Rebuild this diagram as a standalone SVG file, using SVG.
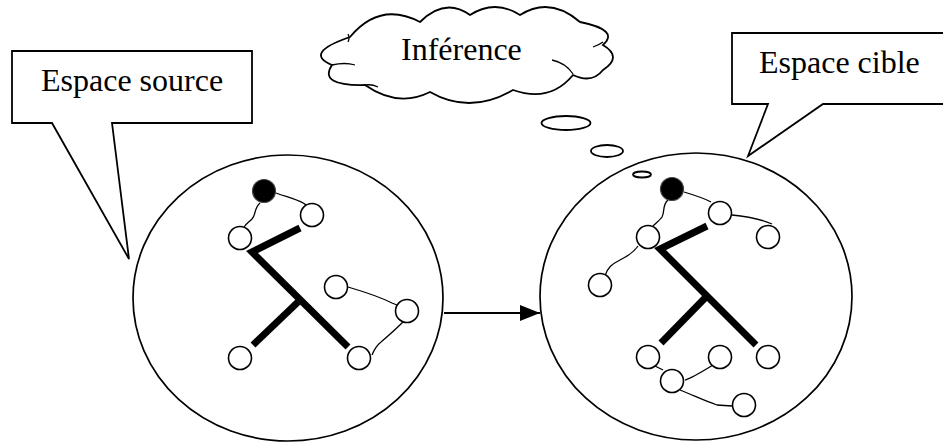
<svg xmlns="http://www.w3.org/2000/svg" width="943" height="443" viewBox="0 0 943 443">
<defs>
<style>
.ol{fill:#fff;stroke:#000;stroke-width:1.8}
.sp{fill:none;stroke:#000;stroke-width:1.7}
.nd{fill:#fff;stroke:#000;stroke-width:1.6}
.bk{fill:#000;stroke:#444;stroke-width:1.2}
.th{fill:none;stroke:#000;stroke-width:7}
.ln{fill:none;stroke:#000;stroke-width:1.3}
.tx{font-family:"Liberation Serif","Times New Roman",serif;font-size:32px;fill:#000}
</style>
<marker id="ah" markerWidth="20" markerHeight="16" refX="20" refY="8" orient="auto" markerUnits="userSpaceOnUse">
<path d="M0,0 L20,8 L0,16 Z" fill="#000"/>
</marker>
</defs>
<rect width="943" height="443" fill="#fff"/>

<g id="callout-source">
<path class="ol" d="M12,51 H252 V123 H112 L129,259 L52,123 H12 Z"/>
<text class="tx" x="41" y="91">Espace source</text>
</g>

<g id="callout-cible">
<path class="ol" d="M732,33 H950 V104 H823 L748,156 L768,104 H732 Z"/>
<text class="tx" x="759" y="73">Espace cible</text>
</g>

<g id="cloud-inference">
<path class="ol" d="M350,37 Q380,1 420,22 Q445,-3 470,15 Q495,-1 520,15 Q550,-4 580,22 Q620,30 603,45 Q623,57 603,70 Q592,84 573,75 Q550,103 513,90 Q470,115 430,92 Q398,108 365,85 Q318,86 332,65 Q303,53 350,37 Z"/>
<path class="ln" d="M332,65 Q345,62 355,65 M552,60 Q566,63 573,74 M593,47 Q599,45 603,42 M348,34 Q350,38 348,42 M365,85 Q372,84 378,87"/>
<text class="tx" x="401" y="60">Inférence</text>
<ellipse class="ol" cx="566" cy="123" rx="24.5" ry="7"/>
<ellipse class="ol" cx="607" cy="151" rx="16" ry="6"/>
<ellipse class="ol" cx="642" cy="174.5" rx="9" ry="3"/>
</g>

<g id="space-source">
<ellipse class="sp" cx="288" cy="298" rx="155" ry="143"/>
</g>

<g id="space-cible">
<ellipse class="sp" cx="696" cy="296.5" rx="156" ry="143.5"/>
</g>

<g id="connectors">
<line x1="444" y1="313" x2="540" y2="313" stroke="#000" stroke-width="1.8" marker-end="url(#ah)"/>
<!-- source tree -->
<polyline class="th" points="300,228 252,252 348,347"/>
<line class="th" x1="298" y1="302" x2="253" y2="345"/>
<path class="ln" d="M276,193 C290,198 300,200 306,205"/>
<path class="ln" d="M260,203 C254,208 256,215 252,219 C249,222 246,224 244,227"/>
<path class="ln" d="M348,287 C365,292 380,297 392,303 L397,305"/>
<path class="ln" d="M403,322 C395,330 388,336 381,342 C376,346 374,350 372,355"/>
<!-- target tree -->
<polyline class="th" points="707,226 660,249 756,345"/>
<line class="th" x1="705" y1="298" x2="661" y2="343"/>
<path class="ln" d="M684,192 C694,195 704,198 711,202"/>
<path class="ln" d="M668,200 C662,205 665,212 662,217 C660,220 656,223 653,226"/>
<path class="ln" d="M732,215 C745,216 760,219 772,224"/>
<path class="ln" d="M638,246 C634,252 628,256 620,260 C612,264 607,268 605,276"/>
<path class="ln" d="M655,366 L663,370"/>
<path class="ln" d="M685,380 C692,378 700,373 713,365"/>
<path class="ln" d="M680,390 C695,396 705,401 717,405 L732,406"/>
</g>

<g id="nodes-source">
<circle class="bk" cx="264" cy="191" r="11.5"/>
<circle class="nd" cx="312" cy="215" r="11.5"/>
<circle class="nd" cx="240" cy="238" r="11.5"/>
<circle class="nd" cx="336" cy="287" r="11.5"/>
<circle class="nd" cx="407" cy="311" r="11.5"/>
<circle class="nd" cx="240" cy="358" r="11.5"/>
<circle class="nd" cx="359" cy="358" r="11.5"/>
</g>

<g id="nodes-cible">
<circle class="bk" cx="672" cy="189" r="11.5"/>
<circle class="nd" cx="720" cy="213" r="11.5"/>
<circle class="nd" cx="768" cy="237" r="11.5"/>
<circle class="nd" cx="648" cy="237" r="11.5"/>
<circle class="nd" cx="600" cy="285" r="11.5"/>
<circle class="nd" cx="648" cy="357" r="11.5"/>
<circle class="nd" cx="720" cy="357" r="11.5"/>
<circle class="nd" cx="768" cy="357" r="11.5"/>
<circle class="nd" cx="672" cy="381" r="11.5"/>
<circle class="nd" cx="744" cy="405" r="11.5"/>
</g>
</svg>
